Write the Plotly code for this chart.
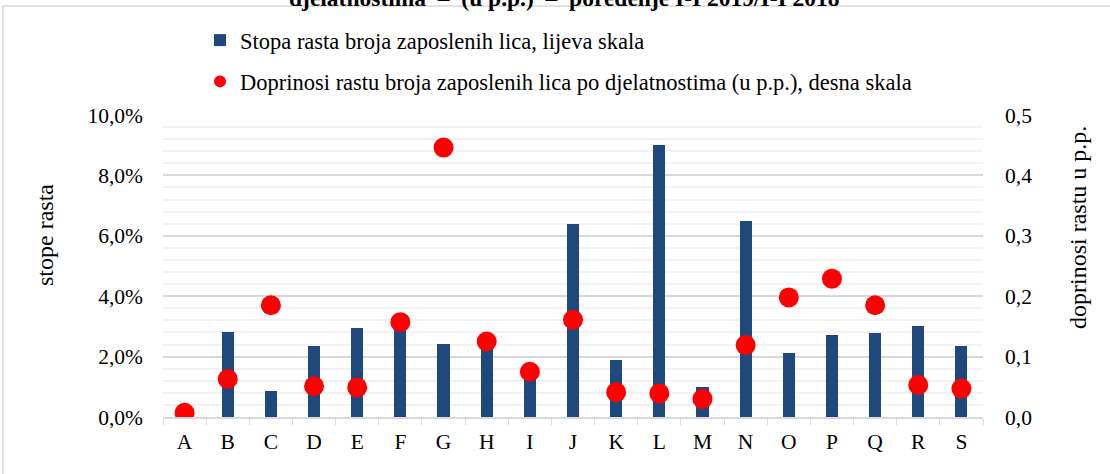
import plotly.graph_objects as go

categories = ["A", "B", "C", "D", "E", "F", "G", "H", "I", "J",
              "K", "L", "M", "N", "O", "P", "Q", "R", "S"]
# growth rate of employed persons, % (left axis)
growth_rate = [0.0, 2.81, 0.87, 2.35, 2.95, 3.05, 2.41, 2.35, 1.45, 6.38,
               1.88, 9.02, 0.99, 6.49, 2.13, 2.70, 2.79, 3.00, 2.36]
# contribution to growth, p.p. (right axis)
contribution = [0.007, 0.063, 0.185, 0.051, 0.049, 0.157, 0.446, 0.125, 0.075, 0.161,
                0.041, 0.039, 0.030, 0.119, 0.198, 0.229, 0.185, 0.053, 0.047]

bar_name = "Stopa rasta broja zaposlenih lica, lijeva skala"
dot_name = "Doprinosi rastu broja zaposlenih lica po djelatnostima (u p.p.), desna skala"
title_text = "djelatnostima \u00a0–\u00a0 (u p.p.) \u00a0–\u00a0 poređenje I-I 2019/I-I 2018"
left_axis_title = "stope rasta"
right_axis_title = "doprinosi rastu u p.p."

W, H = 1110, 474
L, R, T, B = 163, 127, 115, 57
pw, ph = W - L - R, H - T - B

def px_x(p):
    return (p - L) / pw

def px_y(p):
    return (H - B - p) / ph

FONT = "Liberation Serif"
TICK_SIZE = 21.5
LEG_SIZE = 22.5
AXT_SIZE = 24

fig = go.Figure()
fig.add_trace(go.Bar(
    x=categories, y=growth_rate, name=bar_name,
    marker=dict(color="#1F497D", line=dict(width=0)),
    width=0.28, legendgroup="g1", yaxis="y",
))
fig.add_trace(go.Scatter(
    x=categories, y=contribution, name=dot_name, mode="markers",
    marker=dict(color="#FF0000", size=20), legendgroup="g2", yaxis="y2",
))

fig.update_layout(
    width=W, height=H,
    margin=dict(l=L, r=R, t=T, b=B, autoexpand=False),
    paper_bgcolor="white", plot_bgcolor="white",
    separators=", ",
    font=dict(family=FONT, size=TICK_SIZE, color="#000000"),
    showlegend=True,
    legend=dict(
        x=px_x(200), y=px_y(19), xanchor="left", yanchor="top",
        orientation="v", tracegroupgap=9,
        font=dict(family=FONT, size=LEG_SIZE, color="#000000"),
        itemsizing="constant", bgcolor="rgba(0,0,0,0)",
    ),
    xaxis=dict(
        type="category", range=[-0.5, 18.5], automargin=False,
        showline=True, linecolor="#D9D9D9", linewidth=1.5,
        ticks="outside", tickson="boundaries", ticklen=6, tickcolor="#D9D9D9",
        ticklabelstandoff=4,
        tickfont=dict(family=FONT, size=TICK_SIZE), showgrid=False,
    ),
    yaxis=dict(
        range=[0, 10], dtick=2, tickformat=".1f", ticksuffix="%", automargin=False,
        showgrid=True, gridcolor="#D9D9D9", gridwidth=1.5,
        minor=dict(dtick=0.4, showgrid=True, gridcolor="#F2F2F2", gridwidth=1.5),
        zeroline=False, showline=False, ticks="", ticklabelstandoff=19,
        tickfont=dict(family=FONT, size=TICK_SIZE),
    ),
    yaxis2=dict(
        range=[0, 0.5], dtick=0.1, tickformat=".1f", automargin=False,
        overlaying="y", side="right", showgrid=False, zeroline=False,
        ticks="", ticklabelstandoff=21, tickfont=dict(family=FONT, size=TICK_SIZE),
    ),
    bargap=0.0,
)

fig.add_annotation(
    text="<b>" + title_text + "</b>", showarrow=False,
    xref="paper", yref="paper", x=px_x(564), y=px_y(-2),
    xanchor="center", yanchor="middle",
    font=dict(family=FONT, size=23.5, color="#000000"),
)
fig.add_annotation(
    text=left_axis_title, showarrow=False, textangle=-90,
    xref="paper", yref="paper", x=px_x(45), y=px_y(235),
    xanchor="center", yanchor="middle",
    font=dict(family=FONT, size=AXT_SIZE, color="#000000"),
)
fig.add_annotation(
    text=right_axis_title, showarrow=False, textangle=-90,
    xref="paper", yref="paper", x=px_x(1078), y=px_y(228),
    xanchor="center", yanchor="middle",
    font=dict(family=FONT, size=AXT_SIZE, color="#000000"),
)

fig.add_shape(
    type="rect", xref="paper", yref="paper",
    x0=px_x(3), x1=px_x(1120), y0=px_y(6), y1=px_y(490),
    line=dict(color="#D9D9D9", width=1.5), fillcolor="rgba(0,0,0,0)", layer="below",
)

fig.write_html("out.html", config={"displayModeBar": False},
               post_script="document.body.style.margin='0';")
